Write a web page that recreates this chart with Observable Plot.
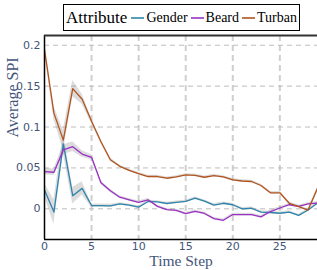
<!DOCTYPE html>
<html>
<head>
<meta charset="utf-8">
<script src="https://cdn.jsdelivr.net/npm/d3@7"></script>
<script src="https://cdn.jsdelivr.net/npm/@observablehq/plot@0.6"></script>
<style>
  html, body { margin: 0; padding: 0; background: #fff; }
  #wrap { position: relative; width: 317px; height: 270px; overflow: hidden; }
  #legend {
    position: absolute; left: 63px; top: 4px; width: 235px; height: 25px;
    border: 1px solid #000; background: #fff; box-sizing: content-box;
    font-family: "Liberation Serif", serif; display: flex; align-items: center;
    white-space: nowrap;
  }
  #legend .title { font-size: 17px; margin-left: 2px; margin-right: 4px; }
  #legend .item { display: flex; align-items: center; font-size: 14px; margin-right: 3px; }
  #legend svg { margin-right: 2px; }
</style>
</head>
<body>
<div id="wrap"><div id="chart"></div><div id="legend"></div></div>
<script>
const steps = [0,1,2,3,4,5,6,7,8,9,10,11,12,13,14,15,16,17,18,19,20,21,22,23,24,25,26,27,28,29];
const attributes = ["Gender", "Beard", "Turban"];
const colors = ["#2f84ad", "#9b31c4", "#b3541e"];

const gender = [0.023, -0.004, 0.0795, 0.016, 0.025, 0.004, 0.004, 0.0035, 0.006, 0.0044, 0.002, 0.009, 0.0085, 0.0065, 0.008, 0.009, 0.013, 0.0093, 0.0046, 0.0068, 0.005, 0.0, 0.0007, -0.004, -0.0045, -0.0054, -0.004, -0.008, -0.0015, 0.007];
const beard = [0.0456, 0.0447, 0.072, 0.076, 0.067, 0.063, 0.032, 0.022, 0.0142, 0.011, 0.008, 0.011, 0.003, -0.001, -0.002, -0.006, -0.003, -0.0057, -0.012, -0.014, -0.007, -0.007, -0.007, -0.0098, -0.0033, 0.001, 0.005, 0.003, 0.006, 0.007];
const turban = [0.195, 0.117, 0.084, 0.147, 0.134, 0.107, 0.082, 0.060, 0.052, 0.047, 0.043, 0.0395, 0.0395, 0.0374, 0.039, 0.0415, 0.041, 0.0386, 0.0407, 0.039, 0.0355, 0.034, 0.0334, 0.0285, 0.0196, 0.0196, 0.0068, 0.0028, -0.0015, 0.025];

// half-widths of the shaded confidence bands
const genderCI = [0.008, 0.015, 0.012, 0.01, 0.008, 0.002, 0.002, 0.002, 0.0015, 0.0015, 0.0015, 0.0015, 0.0015, 0.0015, 0.0015, 0.0015, 0.0015, 0.0015, 0.0015, 0.0015, 0.0015, 0.0015, 0.0015, 0.0015, 0.0015, 0.0015, 0.0015, 0.0015, 0.0015, 0.0015];
const beardCI = [0.004, 0.004, 0.006, 0.006, 0.004, 0.003, 0.002, 0.002, 0.0015, 0.0015, 0.0015, 0.0015, 0.0015, 0.0015, 0.0015, 0.0015, 0.0015, 0.0015, 0.0015, 0.0015, 0.0015, 0.0015, 0.0015, 0.0015, 0.0015, 0.0015, 0.0015, 0.0015, 0.0015, 0.0015];
const turbanCI = [0.003, 0.008, 0.012, 0.01, 0.006, 0.003, 0.002, 0.002, 0.0015, 0.0015, 0.0015, 0.0015, 0.0015, 0.0015, 0.0015, 0.0015, 0.0015, 0.0015, 0.0015, 0.0015, 0.0015, 0.0015, 0.0015, 0.0015, 0.0015, 0.0015, 0.0015, 0.0015, 0.0015, 0.0015];

const xTicks = [0, 5, 10, 15, 20, 25];
const yTicks = [0, 0.05, 0.1, 0.15, 0.2];
const yTickLabels = ["0", "0.05", "0.1", "0.15", "0.2"];

const seriesVals = [gender, beard, turban];
const seriesCI = [genderCI, beardCI, turbanCI];
const rows = [];
attributes.forEach((a, i) => {
  steps.forEach((t, j) => {
    const v = seriesVals[i][j], c = seriesCI[i][j];
    rows.push({t, attr: a, v, lo: v - c, hi: v + c});
  });
});

const yMin = -0.0375, yMax = 0.2119;
const tickColor = "#44557a";

const plot = Plot.plot({
  width: 317,
  height: 270,
  marginLeft: 44,
  marginRight: 0,
  marginTop: 35,
  marginBottom: 31,
  style: { fontFamily: "DejaVu Sans, sans-serif", fontSize: "11px", background: "transparent" },
  x: { domain: [0, 29], label: null },
  y: { domain: [yMin, yMax], label: null },
  color: { domain: attributes, range: colors },
  marks: [
    Plot.gridX(xTicks.filter(d => d > 0), { stroke: "#cfcfcf", strokeOpacity: 1, strokeWidth: 2, strokeDasharray: "6,4" }),
    Plot.gridY(yTicks, { stroke: "#bdbdbd", strokeOpacity: 1, strokeWidth: 1, strokeDasharray: "5,4" }),
    Plot.areaY(rows, { x: "t", y1: "lo", y2: "hi", z: "attr", fill: "#9a9a9a", fillOpacity: 0.35, clip: true }),
    Plot.line(rows, { x: "t", y: "v", z: "attr", stroke: "attr", strokeWidth: 1.3, clip: true }),
    Plot.ruleX([0], { stroke: "#000", strokeWidth: 1.5 }),
    Plot.ruleY([yMin], { stroke: "#000", strokeWidth: 1.5 }),
    Plot.ruleY([yMax], { stroke: "#333", strokeWidth: 2 }),
    Plot.axisX(xTicks, { tickSize: 0, tickPadding: 3, fill: tickColor, fontSize: 11, label: null, tickFormat: d => String(d) }),
    Plot.axisY(yTicks, { tickSize: 0, tickPadding: 4, fill: tickColor, fontSize: 11, label: null, tickFormat: (d, i) => yTickLabels[i] }),
    Plot.text(["Time Step"], { frameAnchor: "bottom", dy: 22, fontFamily: "Liberation Serif, serif", fontSize: 15.5, fill: tickColor, lineAnchor: "middle" }),
    Plot.text(["Average SPI"], { frameAnchor: "left", dx: -32, rotate: -90, fontFamily: "Liberation Serif, serif", fontSize: 16, fill: tickColor })
  ]
});
document.getElementById("chart").appendChild(plot);

const legend = document.getElementById("legend");
const title = document.createElement("span");
title.className = "title";
title.textContent = "Attribute";
legend.appendChild(title);
const ns = "http://www.w3.org/2000/svg";
attributes.forEach((a, i) => {
  const item = document.createElement("span");
  item.className = "item";
  const sw = document.createElementNS(ns, "svg");
  sw.setAttribute("width", "13");
  sw.setAttribute("height", "6");
  const ln = document.createElementNS(ns, "line");
  ln.setAttribute("x1", "0"); ln.setAttribute("x2", "13");
  ln.setAttribute("y1", "3"); ln.setAttribute("y2", "3");
  ln.setAttribute("stroke", colors[i]);
  ln.setAttribute("stroke-width", "1.6");
  sw.appendChild(ln);
  item.appendChild(sw);
  const lab = document.createElement("span");
  lab.textContent = a;
  item.appendChild(lab);
  legend.appendChild(item);
});
</script>
</body>
</html>
